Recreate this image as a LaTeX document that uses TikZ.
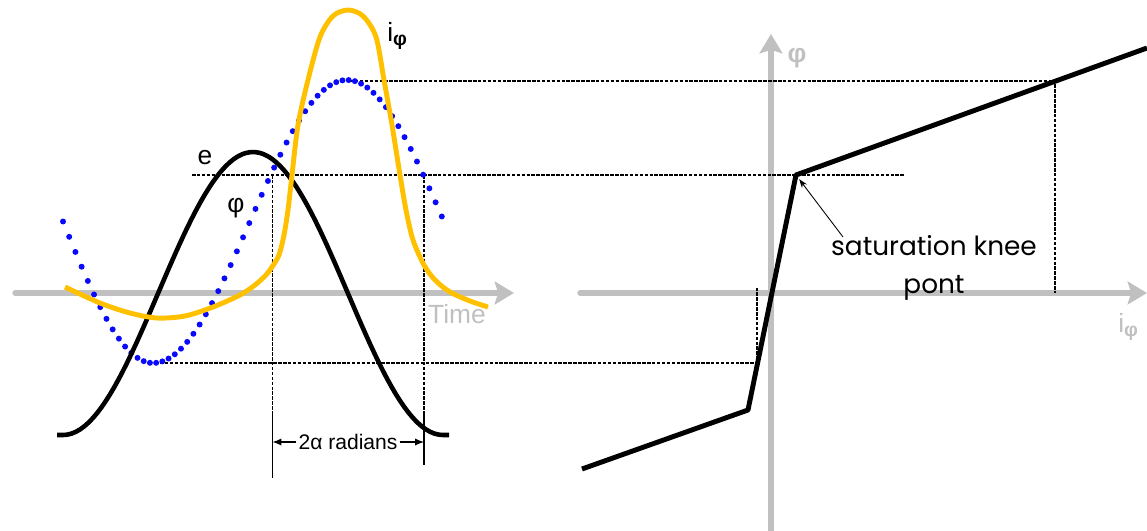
\documentclass[tikz,border=0pt]{standalone}
\usepackage{fontspec}
\setmainfont{Liberation Sans}
\newfontfamily\kneefont{Poppins}
\usetikzlibrary{arrows.meta, calc, positioning}
\definecolor{AxisGrey}{RGB}{192,192,192}
\definecolor{FluxBlue}{RGB}{10,10,250}
\definecolor{CurrentGold}{RGB}{255,192,0}

\begin{document}
\begin{tikzpicture}[x=0.02cm,y=-0.02cm,
    axisline/.style={AxisGrey,line width=3pt,line cap=round,
      -{Stealth[length=11pt,width=13pt,inset=2pt]}},
    guide/.style={black,line width=1.4pt,dash pattern=on 2pt off 0.8pt},
    curve/.style={line width=2.6pt,line join=round},
    lbl/.style={font=\fontsize{15}{18}\selectfont,inner sep=0pt}]
  \useasboundingbox (0,0) rectangle (1147,531);

  % Axes
  \coordinate (t0) at (15,293);
  \coordinate (t1) at (514,293);
  \coordinate (i0) at (580,293);
  \coordinate (i1) at (1147,293);
  \coordinate (p0) at (771,531);
  \coordinate (p1) at (771,34);
  \draw[axisline] (t0) -- (t1);
  \draw[axisline] (i0) -- (i1);
  \draw[axisline,line cap=butt] (p0) -- (p1);
  \node[lbl,text=AxisGrey] (time) at (457,314) {Time};
  \node[lbl,text=AxisGrey,font=\fontsize{15}{18}\selectfont\bfseries] (philbl) at (797,58) {φ};
  \node[lbl,text=AxisGrey,anchor=west] (ilbl) at (1118,327)
    {i\raisebox{-0.35ex}{\fontsize{11}{11}\selectfont\bfseries φ}};

  % Key points
  \coordinate (phimax) at (350,81);
  \coordinate (sattop) at (1055,81);
  \coordinate (kneeL) at (192,175);
  \coordinate (knee) at (796,175);
  \coordinate (kneeR) at (905,175);
  \coordinate (phimin) at (160,363);
  \coordinate (lowpt) at (757,363);
  \coordinate (lowbreak) at (748,410);
  \coordinate (bhstart) at (582,469);
  \coordinate (bhend) at (1147,48);
  \coordinate (aL) at (272.5,175);
  \coordinate (aR) at (424,175);

  % Projection lines
  \draw[guide] (phimax) -- (sattop) -- (sattop |- i0);
  \draw[guide] (kneeL) -- (kneeR);
  \draw[guide] (phimin) -- (lowpt) -- (757,288);
  \draw[guide,line width=1pt] (aL) -- (272.5,415);
  \draw[guide,line width=1pt] (aR) -- (424,415);
  \draw[line width=0.6pt] (272.5,415) -- (272.5,478);
  \draw[line width=0.6pt] (424,415) -- (424,465);

  % Flux (dots)
  \foreach \k in {0,...,61}{
    \pgfmathsetmacro{\px}{63+6.21*\k}
    \pgfmathsetmacro{\pT}{\px<153 ? 180 : 194}
    \pgfmathsetmacro{\py}{221.5+141.5*cos((\px-153)/\pT*180)}
    \fill[FluxBlue] (\px,\py) circle[radius=1.7pt];}

  % Voltage
  \draw[curve] (57,435) -- plot[domain=63:443,samples=90]
    (\x,{293.5+141.5*cos((\x-63)/190*180)}) -- (449,435);

  % Exciting current
  \draw[CurrentGold,curve,line width=2.8pt] plot[smooth,tension=0.5] coordinates {
    (65,287) (100,303) (130,313) (157,318) (185,316) (213,307) (240,295)
    (255,285) (266,275) (272,267) (279,255) (284,235) (288,210) (292,175)
    (298,125) (308,80) (320,37) (333,16) (348,10) (363,16) (376,37)
    (384,80) (392,125) (400,175) (406,210) (413,240) (424,265) (435,280)
    (450,292) (470,301) (488,307)};

  % Saturation curve
  \draw[curve,line width=2.8pt] (bhstart) -- (lowbreak) -- (knee) -- (bhend);

  % Labels
  \node[lbl] (elbl) at (205,158) {e};
  \node[lbl] (phil) at (236,208) {φ};
  \node[lbl,anchor=west] (icur) at (387,36)
    {i\raisebox{-0.35ex}{\fontsize{11}{11}\selectfont\bfseries φ}};
  \node[font=\fontsize{12}{14}\selectfont,inner sep=1pt] (alpha) at (348,442) {2α radians};
  \draw[line width=0.6pt,-{Latex[length=5pt,width=4pt]}] (alpha.west) -- (aL |- alpha);
  \draw[line width=0.6pt,-{Latex[length=5pt,width=4pt]}] (alpha.east) -- (aR |- alpha);
  \node[font=\kneefont\fontsize{15}{22}\selectfont,align=center,inner sep=0pt]
    (sat) at (934,268) {saturation knee\\pont};
  \coordinate (sattail) at (843,237);
  \draw[line width=0.5pt,-{Stealth[length=5pt,width=3.5pt]},shorten >=3pt] (sattail) -- (knee);
\end{tikzpicture}
\end{document}
